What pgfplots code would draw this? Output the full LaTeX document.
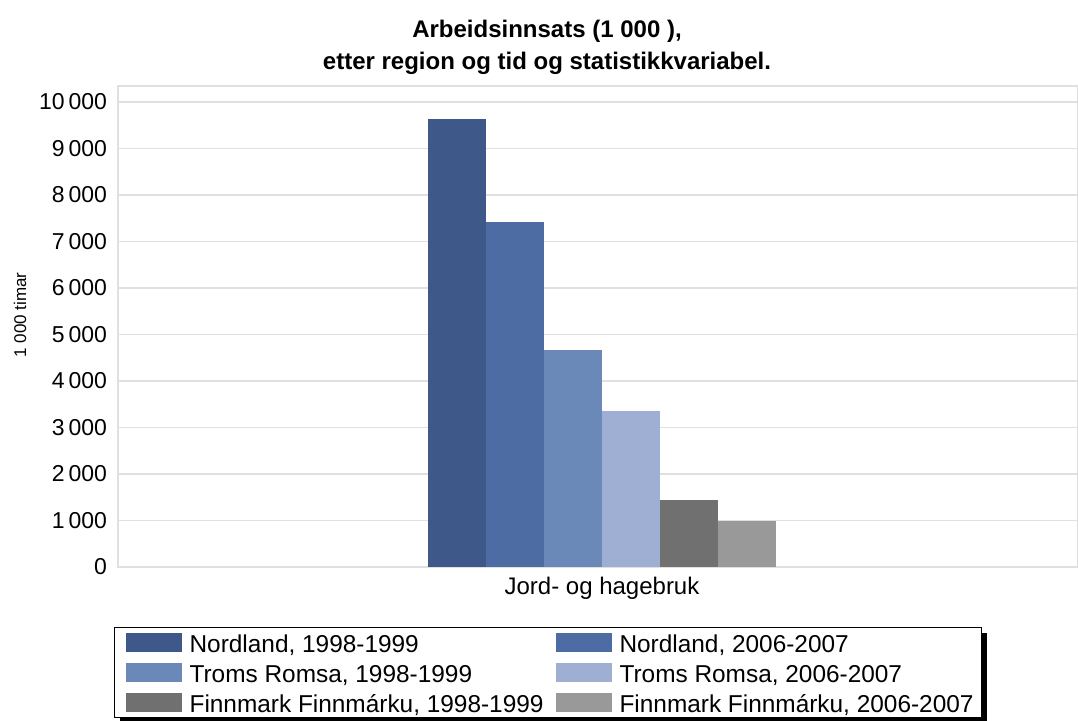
\documentclass[border=0pt]{standalone}
\usepackage{fontspec}
\setmainfont{Liberation Sans}
\usepackage{pgfplots}
\pgfplotsset{compat=1.18}
\usetikzlibrary{shadows}

\makeatletter
\tikzset{no preactions/.code={\let\tikz@preactions\pgfutil@empty}}
\makeatother

\definecolor{nordA}{RGB}{63,88,138}
\definecolor{nordB}{RGB}{77,108,163}
\definecolor{tromsA}{RGB}{106,136,184}
\definecolor{tromsB}{RGB}{158,175,211}
\definecolor{finnA}{RGB}{112,112,112}
\definecolor{finnB}{RGB}{153,153,153}
\definecolor{gridc}{RGB}{224,224,224}

\begin{document}
\begin{tikzpicture}
\path[use as bounding box] (0,0) rectangle (539pt,-360pt);
\begin{axis}[
    at={(59pt,-283.5pt)}, anchor=south west,
    scale only axis,
    width=480pt, height=240.5pt,
    ybar=0pt, bar width=29pt,
    xmin=-8.345, xmax=8.207,
    ymin=0, ymax=10344,
    xtick={0}, xticklabels={Jord- og hagebruk},
    ytick={0,1000,...,10000},
    scaled y ticks=false,
    major tick length=0pt,
    ymajorgrids, grid style={gridc, line width=0.6pt},
    axis line style={gridc, line width=0.6pt},
    yticklabel style={font=\fontsize{11.5}{13}\selectfont, xshift=-2pt},
    xticklabel style={font=\fontsize{12}{14}\selectfont, yshift=-1.5pt},
    /pgf/number format/assume math mode=true,
    /pgf/number format/1000 sep={\,},
    ylabel={1 000 timar},
    ylabel style={font=\fontsize{8.5}{10}\selectfont, anchor=center,
        at={(axis description cs:-0.102,0.524)}},
    title={\textbf{Arbeidsinnsats (1 000 ),}\\\textbf{etter region og tid og statistikkvariabel.}},
    title style={font=\fontsize{12}{16}\selectfont, align=center, xshift=-25.5pt, yshift=-4pt},
    legend columns=2,
    legend style={at={(0,0)}, anchor=north west, xshift=-2pt, yshift=-30pt,
        draw=black, line width=0.6pt, fill=white, inner xsep=2pt, inner ysep=0pt,
        drop shadow={shadow xshift=2.5pt, shadow yshift=-2.5pt, fill=black, opacity=1},
        font=\fontsize{12.2}{14}\selectfont,
        nodes={inner sep=2pt, text height=10.6pt, text depth=0.4pt},
        row sep=0pt,
        /tikz/every even column/.append style={column sep=0.5pt}},
    legend cell align=left,
    legend image code/.code={
        \path[fill=none, draw=none, no preactions] (-3.5pt,-5.5pt) rectangle (30pt,5.5pt);
        \fill[#1, no preactions] (0pt,-4.75pt) rectangle (28pt,4.75pt);},
    every axis plot/.append style={draw=none},
]
\addplot[fill=nordA] coordinates {(0,9628)};
\addplot[fill=nordB] coordinates {(0,7419)};
\addplot[fill=tromsA] coordinates {(0,4667)};
\addplot[fill=tromsB] coordinates {(0,3361)};
\addplot[fill=finnA] coordinates {(0,1434)};
\addplot[fill=finnB] coordinates {(0,996)};
\legend{Nordland{,} 1998-1999, Nordland{,} 2006-2007,
        Troms Romsa{,} 1998-1999, Troms Romsa{,} 2006-2007,
        Finnmark Finnmárku{,} 1998-1999, Finnmark Finnmárku{,} 2006-2007}
\end{axis}
\end{tikzpicture}
\end{document}
